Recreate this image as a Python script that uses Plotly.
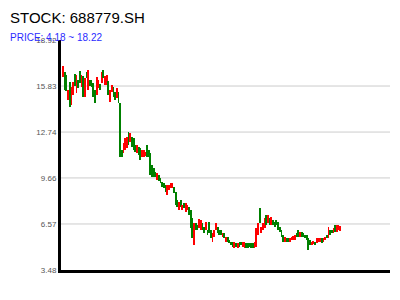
import plotly.graph_objects as go

title_text = "STOCK: 688779.SH"
subtitle_text = "PRICE: 4.18 ~ 18.22"
y_ticks = [3.48, 6.57, 9.66, 12.74, 15.83, 18.92]
grid_ticks = [6.57, 9.66, 12.74, 15.83]

open_p = [16.44, 16.77, 16.57, 14.89, 16.10, 14.56, 15.23, 16.64, 15.36, 16.24,
          16.84, 15.77, 16.50, 15.09, 16.77, 15.56, 16.24, 16.24, 16.03, 15.56,
          15.23, 15.70, 15.97, 16.03, 16.91, 15.90, 15.90, 16.17, 14.76, 15.43,
          15.77, 15.43, 15.03, 15.43, 14.69, 11.54, 11.33, 11.54, 11.67, 12.74,
          12.07, 12.41, 12.34, 11.87, 11.33, 11.74, 11.67, 11.07, 11.07, 11.13,
          11.87, 11.54, 11.33, 10.53, 10.33, 10.06, 9.52, 9.86, 9.66, 9.39,
          9.32, 9.19, 8.51, 8.85, 8.98, 8.98, 9.05, 8.72, 8.18, 7.51,
          8.18, 7.51, 7.98, 7.37, 7.51, 7.71, 7.51, 6.97, 5.16, 6.64,
          6.50, 6.30, 6.17, 6.64, 6.37, 6.17, 6.17, 6.70, 6.17, 5.36,
          5.70, 6.17, 6.37, 6.17, 6.17, 5.70, 5.96, 5.36, 5.70, 5.49,
          5.36, 5.36, 4.96, 5.29, 4.96, 5.36, 5.36, 5.02, 4.96, 5.29,
          5.29, 5.29, 5.29, 5.29, 4.96, 5.02, 5.83, 7.64, 5.96, 6.17,
          6.30, 7.17, 6.64, 6.97, 6.50, 6.84, 6.70, 6.84, 6.70, 6.37,
          6.17, 5.83, 5.36, 5.63, 5.63, 5.36, 5.49, 5.49, 5.49, 5.96,
          6.17, 5.70, 6.03, 5.96, 5.83, 5.83, 5.63, 5.49, 5.16, 5.23,
          5.36, 5.29, 5.36, 5.36, 5.63, 5.36, 5.49, 5.83, 5.63, 6.17,
          6.17, 5.96, 6.50, 6.03, 6.17, 6.10]

close_p = [17.17, 15.56, 15.50, 15.56, 14.42, 15.77, 16.10, 15.83, 16.57, 15.70,
           16.03, 16.57, 15.09, 16.37, 16.37, 16.91, 15.83, 15.77, 15.09, 14.69,
           16.44, 16.24, 15.56, 16.77, 16.37, 16.50, 16.57, 15.23, 15.56, 15.90,
           15.09, 14.89, 15.70, 14.69, 11.07, 11.07, 12.01, 12.34, 12.41, 11.87,
           12.68, 11.74, 11.54, 11.40, 11.87, 11.20, 10.86, 11.54, 11.54, 11.40,
           11.07, 11.07, 9.86, 9.72, 9.72, 9.72, 9.99, 9.45, 9.32, 9.05,
           8.98, 8.72, 9.19, 9.19, 9.32, 9.32, 8.65, 7.84, 7.71, 8.04,
           7.71, 7.84, 7.64, 7.98, 7.84, 7.17, 6.30, 5.63, 6.64, 6.17,
           6.17, 6.90, 6.84, 6.17, 5.96, 6.70, 5.83, 5.96, 5.63, 5.96,
           6.17, 6.64, 5.96, 5.83, 5.83, 5.96, 5.63, 5.70, 5.36, 5.29,
           5.16, 5.02, 5.36, 5.02, 5.29, 5.02, 5.16, 5.36, 5.36, 4.96,
           4.96, 5.02, 4.96, 4.96, 5.36, 6.30, 6.64, 6.64, 6.37, 6.64,
           6.97, 6.50, 7.17, 6.50, 7.04, 6.50, 6.37, 6.50, 6.17, 6.03,
           5.70, 5.36, 5.70, 5.36, 5.36, 5.63, 5.70, 5.76, 5.83, 5.70,
           5.70, 6.03, 5.70, 5.70, 5.63, 5.49, 4.82, 5.16, 5.36, 5.43,
           5.16, 5.63, 5.63, 5.63, 5.29, 5.63, 5.70, 5.63, 6.37, 5.83,
           5.96, 6.30, 6.03, 6.50, 6.50, 6.43]

n = len(open_p)
idx = list(range(n))
lows = [min(o, c) for o, c in zip(open_p, close_p)]
spans = [abs(c - o) for o, c in zip(open_p, close_p)]
colors = ["#ff0000" if c >= o else "#008000" for o, c in zip(open_p, close_p)]

fig = go.Figure(go.Bar(
    x=idx, y=spans, base=lows, width=0.5,
    marker=dict(color=colors, line=dict(width=0)),
    hoverinfo="skip",
))

shapes = [dict(type="line", xref="paper", x0=0, x1=1, yref="y", y0=t, y1=t,
               line=dict(color="#cccccc", width=1), layer="below") for t in grid_ticks]

fig.update_layout(
    width=400, height=300,
    margin=dict(l=61, r=10, t=40, b=30),
    paper_bgcolor="white", plot_bgcolor="white",
    showlegend=False,
    bargap=0,
    shapes=shapes,
    font=dict(family="Liberation Sans, Arial, sans-serif"),
    xaxis=dict(range=[-1.2, 194.6], showgrid=False, zeroline=False,
               showticklabels=False, ticks="", showline=True,
               linecolor="black", linewidth=3, fixedrange=True),
    yaxis=dict(range=[3.48, 18.92], tickvals=y_ticks,
               ticktext=[f"{t:.2f}" for t in y_ticks],
               showgrid=False, zeroline=False, ticks="",
               tickfont=dict(size=8, color="#555555"),
               showline=True, linecolor="black", linewidth=3),
    annotations=[
        dict(text=title_text, xref="paper", yref="paper", x=-0.161, y=1.0957,
             xanchor="left", yanchor="middle", showarrow=False,
             font=dict(size=15, color="black")),
        dict(text=subtitle_text, xref="paper", yref="paper", x=-0.161, y=1.013,
             xanchor="left", yanchor="middle", showarrow=False,
             font=dict(size=10, color="#2b2bff")),
    ],
)

fig.write_html("out.html")
